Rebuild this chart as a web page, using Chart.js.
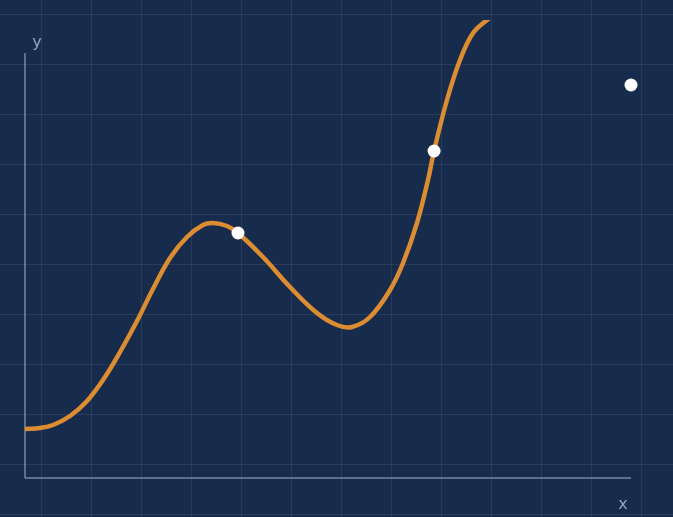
<!DOCTYPE html>
<html>
<head>
<meta charset="utf-8">
<script src="https://cdn.jsdelivr.net/npm/chart.js@4"></script>
<style>
  html, body { margin: 0; padding: 0; }
  body {
    width: 673px; height: 517px; overflow: hidden;
    background-color: #172b4d;
    background-image:
      linear-gradient(to right, rgba(255,255,255,0.075) 1px, transparent 1px),
      linear-gradient(to bottom, rgba(255,255,255,0.075) 1px, transparent 1px);
    background-size: 50px 50px;
    background-position: 41px 14px;
  }
  #wrap { position: relative; width: 673px; height: 517px; }
</style>
</head>
<body>
<div id="wrap"><canvas id="c"></canvas></div>
<script>
// Curve samples (x, y)
const curveX = [0, 0.149, 0.277, 0.446, 0.614, 0.772, 0.941, 1.109, 1.267, 1.436, 1.604, 1.762, 1.861, 2.0, 2.109, 2.356, 2.624, 2.891, 3.089, 3.238, 3.416, 3.614, 3.743, 3.881, 3.990, 4.050, 4.178, 4.307, 4.436, 4.574, 4.673];
const curveY = [0.49, 0.50, 0.53, 0.62, 0.77, 0.98, 1.26, 1.57, 1.89, 2.20, 2.41, 2.53, 2.55, 2.52, 2.45, 2.21, 1.91, 1.65, 1.53, 1.51, 1.61, 1.88, 2.15, 2.55, 2.98, 3.27, 3.78, 4.18, 4.45, 4.58, 4.65];
// White sample points
const pointX = [2.109, 4.05, 6.0];
const pointY = [2.45, 3.27, 3.93];
// Axis extents and labels
const axisXMax = 6;
const axisYMax = 4.25;
const axisLabels = ['x', 'y'];

const curveData = curveX.map((x, i) => ({ x, y: curveY[i] }));
const pointData = pointX.map((x, i) => ({ x, y: pointY[i] }));

const axisColor = 'rgba(150,168,195,0.75)';
const labelColor = '#95a4bb';

const labelPlugin = {
  id: 'axisLabels',
  afterDatasetsDraw(chart) {
    const { ctx, scales } = chart;
    const xs = scales.x, ys = scales.y;
    ctx.save();
    ctx.fillStyle = labelColor;
    ctx.font = "16px 'DejaVu Sans', sans-serif";
    ctx.textAlign = 'center';
    ctx.textBaseline = 'alphabetic';
    ctx.fillText(axisLabels[1], xs.getPixelForValue(0) + 12, ys.getPixelForValue(axisYMax) - 6);
    ctx.fillText(axisLabels[0], xs.getPixelForValue(axisXMax) - 8, ys.getPixelForValue(0) + 31);
    ctx.restore();
  }
};

new Chart(document.getElementById('c'), {
  type: 'scatter',
  data: {
    datasets: [
      {
        label: 'points',
        data: pointData,
        showLine: false,
        pointRadius: 6.5,
        pointHoverRadius: 6.5,
        pointBackgroundColor: '#ffffff',
        pointBorderWidth: 0,
        order: 0,
        clip: false
      },
      {
        label: 'curve',
        data: curveData,
        showLine: true,
        borderColor: '#dc8d31',
        borderWidth: 4.5,
        pointRadius: 0,
        tension: 0.4,
        capBezierPoints: false,
        borderCapStyle: 'round',
        fill: false,
        order: 1,
        clip: 0
      },
      {
        label: 'xaxis',
        data: [{ x: 0, y: 0 }, { x: axisXMax, y: 0 }],
        showLine: true,
        borderColor: axisColor,
        borderWidth: 1.5,
        pointRadius: 0,
        order: 2,
        clip: false
      },
      {
        label: 'yaxis',
        data: [{ x: 0, y: 0 }, { x: 0, y: axisYMax }],
        showLine: true,
        borderColor: axisColor,
        borderWidth: 1.5,
        pointRadius: 0,
        order: 2,
        clip: false
      }
    ]
  },
  options: {
    responsive: true,
    maintainAspectRatio: false,
    animation: false,
    events: [],
    layout: { padding: { left: 25, right: 42, top: 20, bottom: 39 } },
    plugins: { legend: { display: false }, tooltip: { enabled: false } },
    scales: {
      x: { type: 'linear', min: 0, max: axisXMax, display: false },
      y: { type: 'linear', min: 0, max: 4.58, display: false }
    }
  },
  plugins: [labelPlugin]
});
</script>
</body>
</html>
